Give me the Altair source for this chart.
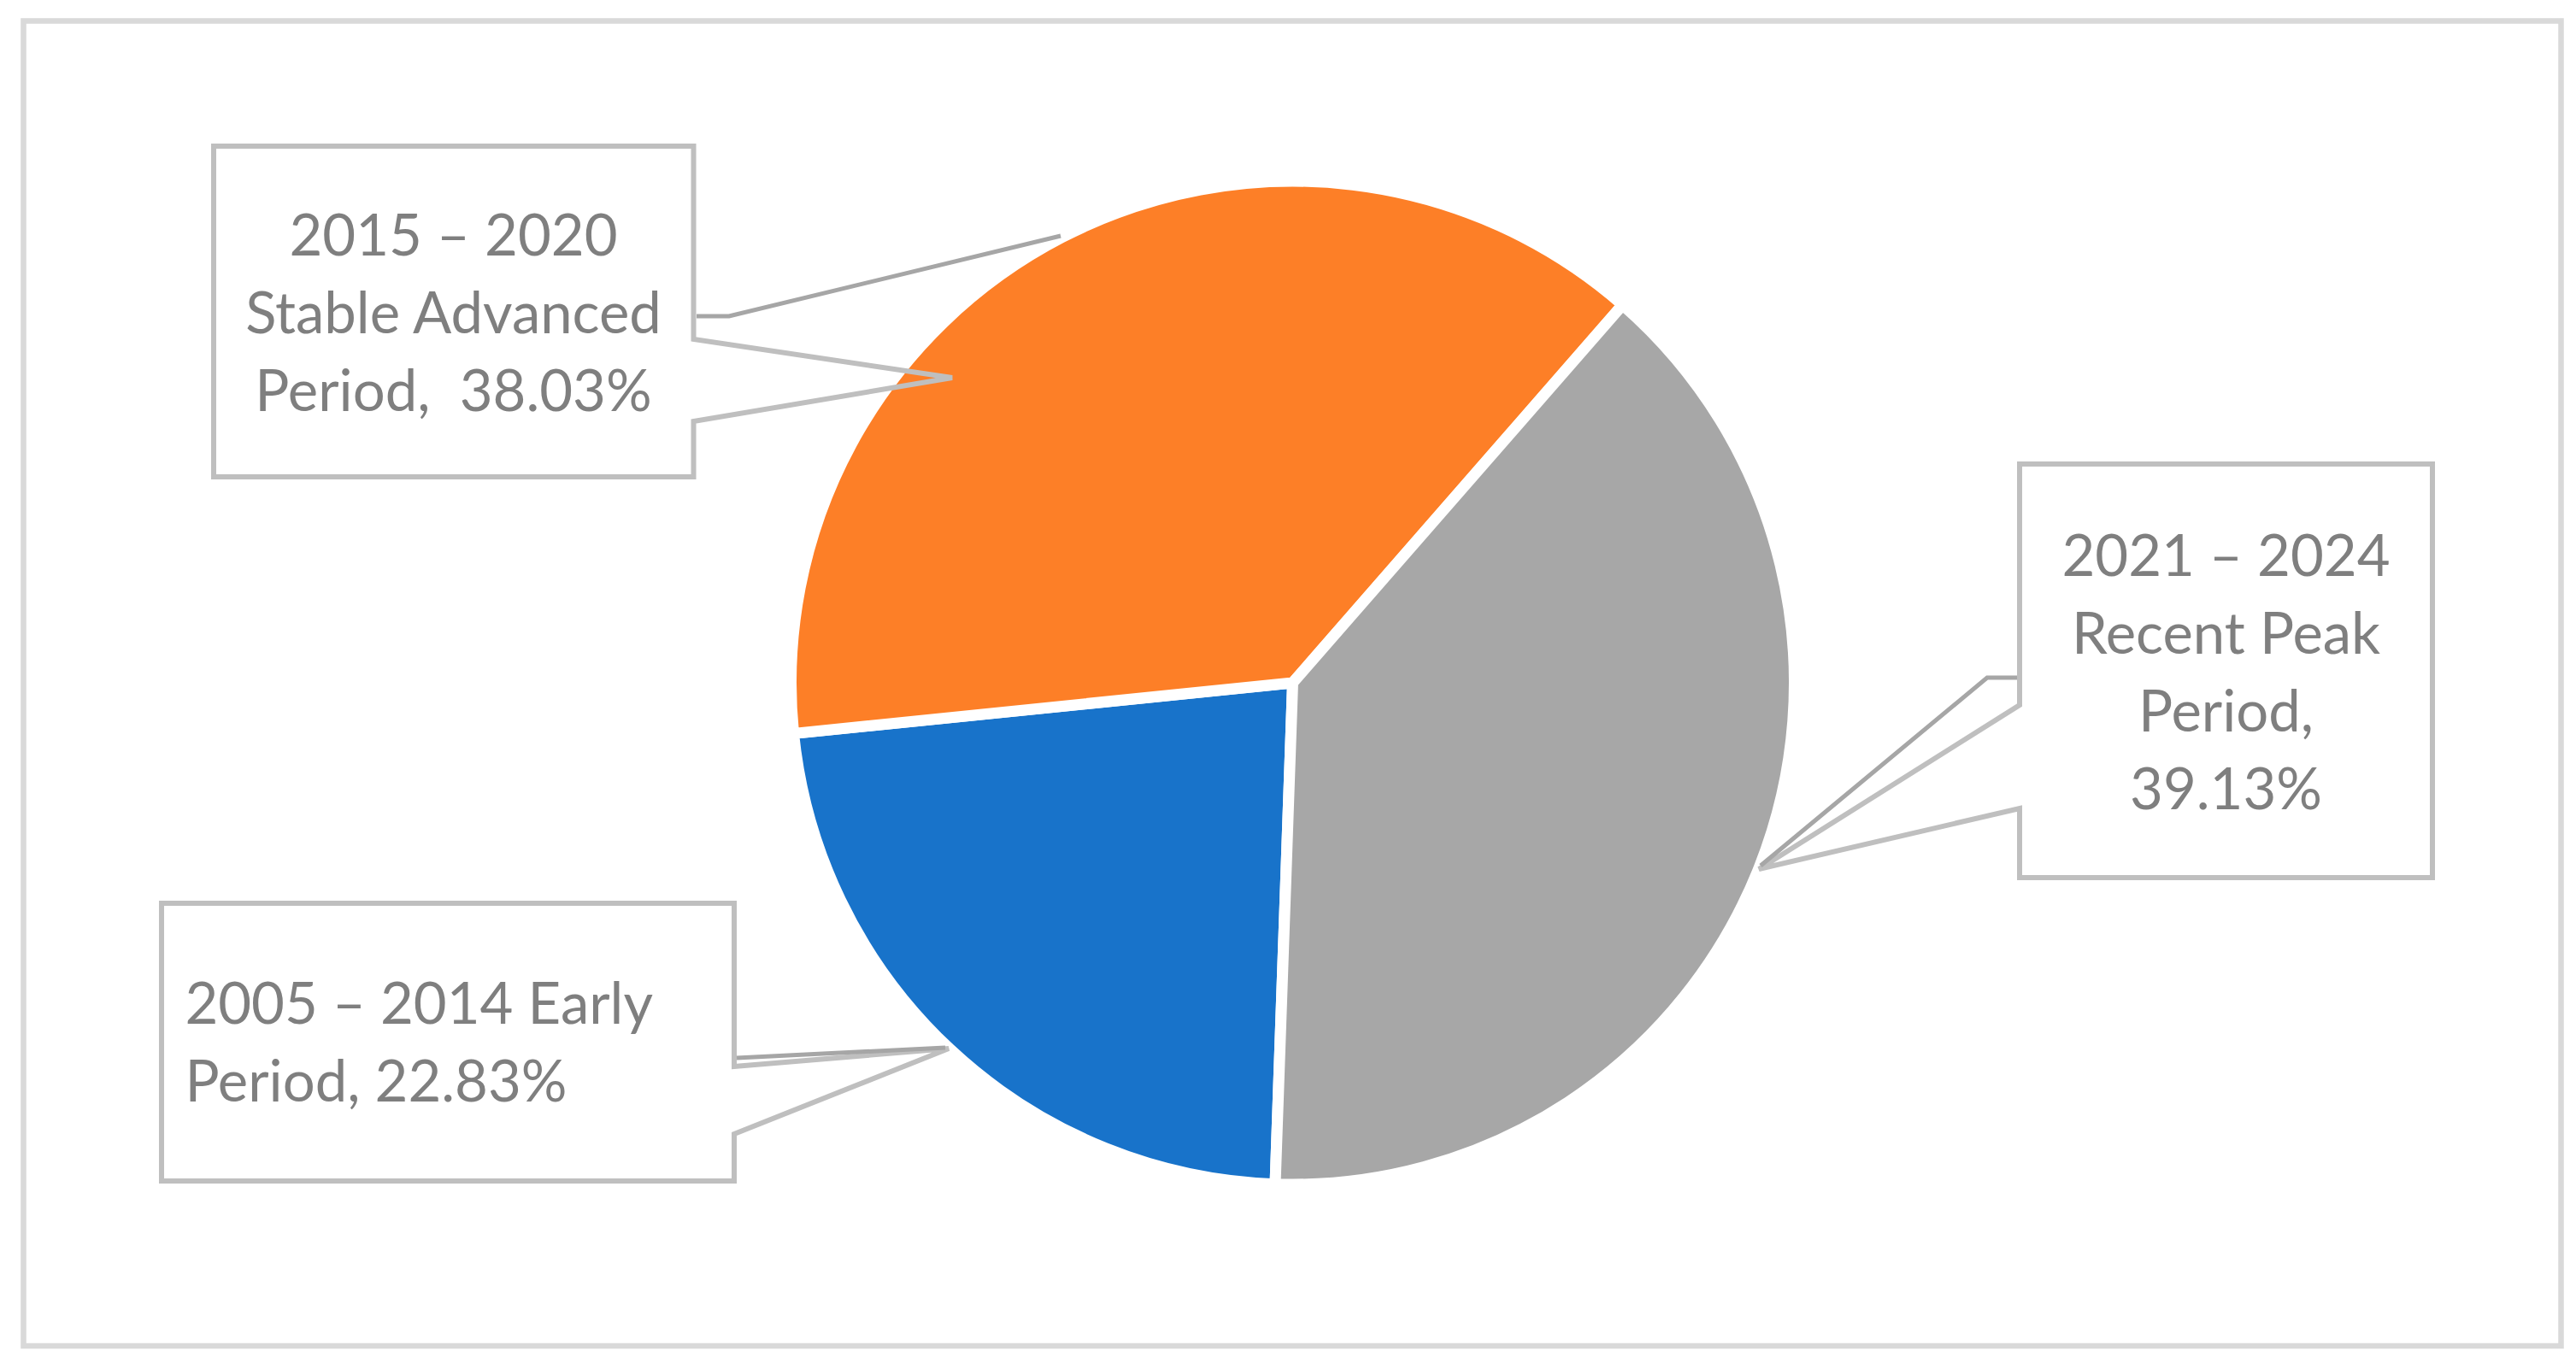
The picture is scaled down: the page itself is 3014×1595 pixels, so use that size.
import math
import altair as alt
import pandas as pd

# ---------------- data ----------------
periods = ["2005 – 2014 Early Period",
           "2015 – 2020 Stable Advanced Period",
           "2021 – 2024 Recent Peak Period"]
shares = [22.83, 38.03, 39.13]
slice_colors = ["#1873ca", "#fd7f27", "#a7a7a7"]

blue_lines = ["2005 – 2014 Early", "Period, 22.83%"]
orange_lines = ["2015 – 2020", "Stable Advanced", "Period,\u00a0 38.03%"]
gray_lines = ["2021 – 2024", "Recent Peak", "Period,", "39.13%"]

# ---------------- layout (page pixels) ----------------
W, H = 2998, 1579
M = 8
CX, CY, R, GAP = 1512.5 - M, 799 - M, 587, 13
START = math.radians(182.0)
LINE_H = 91

boxes = {
    "blue": dict(l=189, r=859, t=1057, b=1382, side="r", w0=1248, w1=1327,
                 tip=(1110, 1227), lead=[(862, 1238), (1106, 1226)],
                 tx=216.4, ty=1198.3, align="left", lines=blue_lines),
    "orange": dict(l=250, r=811.5, t=171, b=558, side="r", w0=397, w1=493,
                   tip=(1114, 442), lead=[(815, 370), (853, 370), (1241, 276)],
                   tx=530.5, ty=299, align="center", lines=orange_lines),
    "gray": dict(l=2363, r=2846, t=543, b=1027, side="l", w0=825, w1=946,
                 tip=(2058, 1017), lead=[(2360, 793), (2325, 793), (2060, 1013)],
                 tx=2604.5, ty=674, align="center", lines=gray_lines),
}
frame = dict(x=27.5, x2=2996.5, y=24.5, y2=1575)

# ---------------- tables ----------------
pie_df = pd.DataFrame({"period": periods, "share": shares, "idx": range(len(periods))})

outline_rows, lead_rows, text_rows = [], [], []
for name, b in boxes.items():
    l, r, t, bt = b["l"], b["r"], b["t"], b["b"]
    if b["side"] == "r":
        pts = [(l, t), (r, t), (r, b["w0"]), b["tip"], (r, b["w1"]), (r, bt), (l, bt), (l, t)]
    else:
        pts = [(l, t), (r, t), (r, bt), (l, bt), (l, b["w1"]), b["tip"], (l, b["w0"]), (l, t)]
    for i, (px, py) in enumerate(pts):
        outline_rows.append({"box": name, "seq": i, "x": px - M, "y": py - M})
    for i, (px, py) in enumerate(b["lead"]):
        lead_rows.append({"box": name, "seq": i, "x": px - M, "y": py - M})
    for i, line in enumerate(b["lines"]):
        text_rows.append({"box": name, "x": b["tx"] - M, "y": b["ty"] - M + i * LINE_H,
                          "text": line, "align": b["align"]})

outline_df = pd.DataFrame(outline_rows)
lead_df = pd.DataFrame(lead_rows)
text_df = pd.DataFrame(text_rows)
frame_df = pd.DataFrame([{k: v - M for k, v in frame.items()}])

xs = alt.Scale(domain=[0, W], range=[0, W], nice=False, zero=False)
ys = alt.Scale(domain=[0, H], range=[0, H], nice=False, zero=False)
X = lambda f="x": alt.X(f"{f}:Q", scale=xs, axis=None)
Y = lambda f="y": alt.Y(f"{f}:Q", scale=ys, axis=None)

frame_layer = alt.Chart(frame_df).mark_rect(
    fill="white", stroke="#d9d9d9", strokeWidth=6.5
).encode(x=X(), x2="x2:Q", y=Y(), y2="y2:Q")

pie = alt.Chart(pie_df).mark_arc(
    radius=R, stroke="white", strokeWidth=GAP, x=CX, y=CY
).encode(
    theta=alt.Theta("share:Q", stack=True,
                    scale=alt.Scale(range=[START, START + 2 * math.pi])),
    color=alt.Color("period:N", scale=alt.Scale(domain=periods, range=slice_colors),
                    legend=None),
    order=alt.Order("idx:Q"),
)

outlines = alt.Chart(outline_df).mark_line(
    color="#bfbfbf", strokeWidth=6, strokeCap="square", strokeJoin="miter"
).encode(x=X(), y=Y(), detail="box:N", order="seq:Q")

leaders = alt.Chart(lead_df).mark_line(
    color="#a6a6a6", strokeWidth=5, strokeJoin="miter"
).encode(x=X(), y=Y(), detail="box:N", order="seq:Q")

FS = 67
txt_c = alt.Chart(text_df[text_df["align"] == "center"]).mark_text(
    font="Lato", fontSize=FS, color="#7f7f7f", align="center", baseline="alphabetic"
).encode(x=X(), y=Y(), text="text:N")

txt_l = alt.Chart(text_df[text_df["align"] == "left"]).mark_text(
    font="Lato", fontSize=FS, color="#7f7f7f", align="left", baseline="alphabetic"
).encode(x=X(), y=Y(), text="text:N")

chart = alt.layer(frame_layer, pie, outlines, leaders, txt_c, txt_l).properties(
    width=W, height=H, padding=0, autosize="none", background="white"
).configure_view(stroke=None)

chart.save("out.html", embed_options={"renderer": "svg", "actions": False})
